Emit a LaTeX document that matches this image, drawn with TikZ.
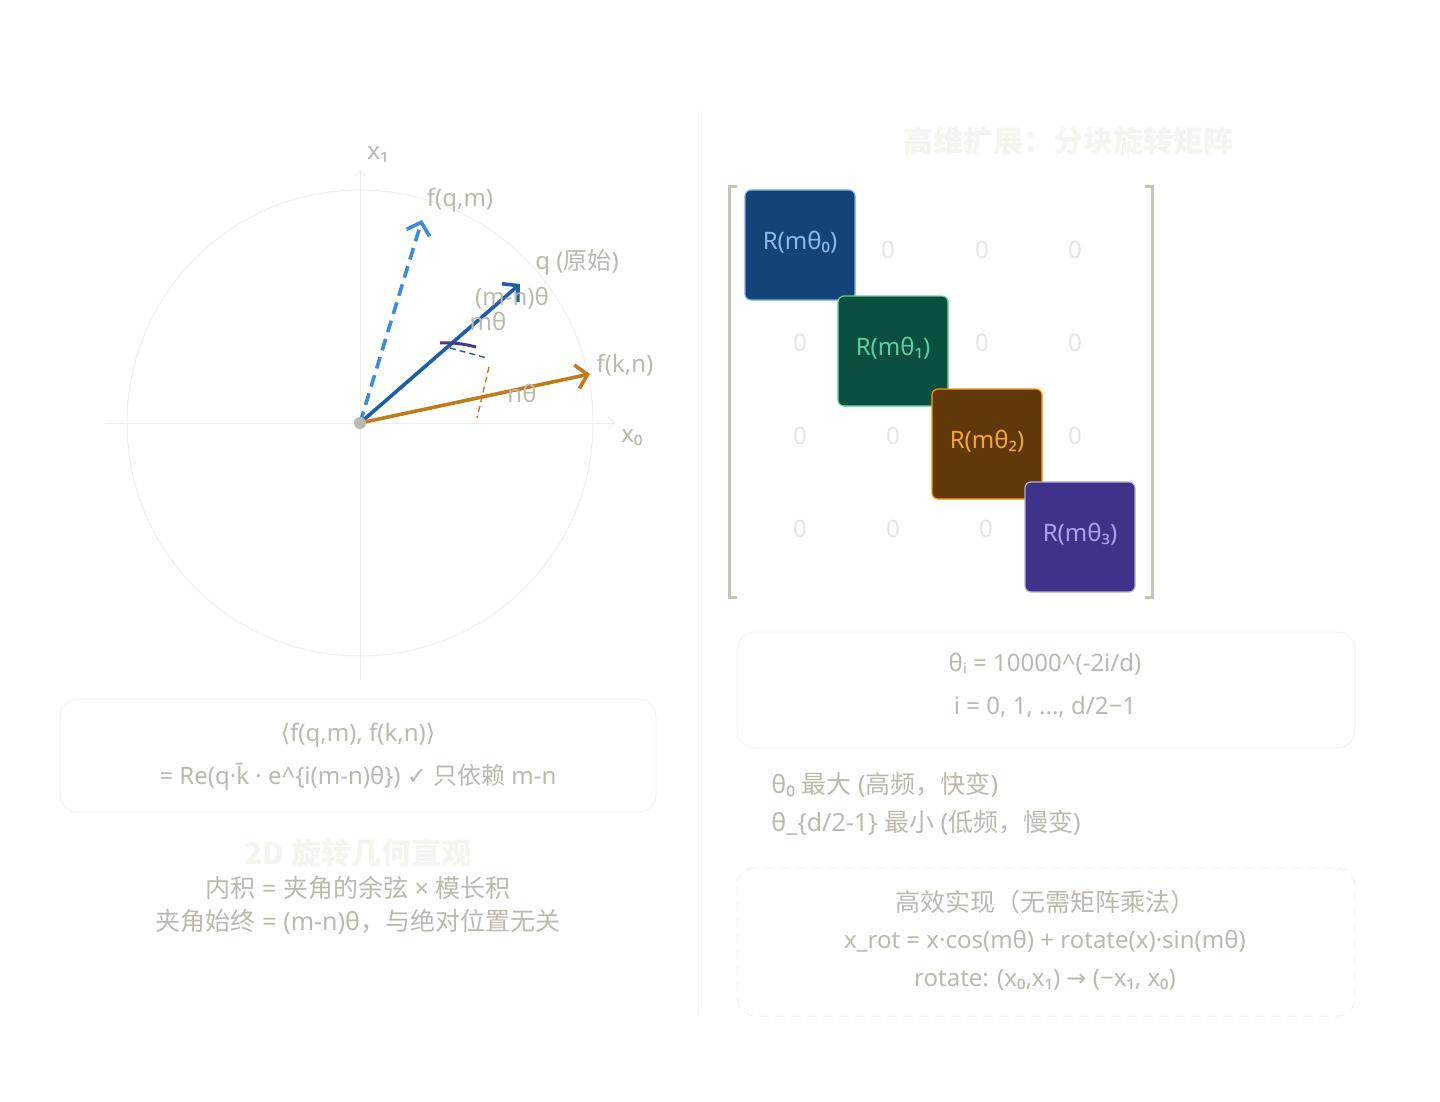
\documentclass[tikz,border=0pt]{standalone}
\usepackage{fontspec}
\setmainfont{Noto Sans}
\newfontfamily\cjk{Noto Sans CJK SC}
\newfontfamily\symf{DejaVu Sans}
\usepackage{xcolor}
\usepackage{tikz}
\usetikzlibrary{arrows.meta,positioning}

\definecolor{txtgray}{HTML}{BCB8AD}
\definecolor{zerogray}{HTML}{E6E4DF}
\definecolor{faint}{HTML}{F5F4EF}
\definecolor{axisgray}{HTML}{EDEDED}
\definecolor{qblue}{HTML}{1B5FAA}
\definecolor{fqblue}{HTML}{3D8BD9}
\definecolor{korange}{HTML}{C37A1A}
\definecolor{arcpurple}{HTML}{4B3A8C}

\begin{document}
\begin{tikzpicture}[x=0.5pt,y=-0.5pt,
  lbl/.style={text=txtgray,font=\fontsize{12}{14}\selectfont,inner sep=1pt},
  note/.style={text=txtgray,font=\fontsize{12.5}{15}\selectfont,inner sep=1pt},
  heading/.style={text=faint,font=\fontsize{15}{18}\selectfont\cjk\bfseries,inner sep=1pt},
  zero/.style={text=zerogray,font=\fontsize{12}{14}\selectfont,inner sep=1pt},
  vec/.style={line width=1.8pt,-{Straight Barb[length=5.5pt,width=12pt,line width=1.8pt]}},
  blk/.style={draw=#1,rounded corners=3pt,minimum size=55pt,line width=0.6pt,inner sep=0pt,
    font=\fontsize{12}{14}\selectfont},
  panel/.style={draw=#1,rounded corners=9pt,line width=0.5pt}]
  \useasboundingbox (0,0) rectangle (1440,1102);

  % divider
  \draw[color=axisgray!60,line width=0.5pt] (698,110) -- (698,1015);

  % ---------- left: 2D rotation ----------
  \coordinate (O) at (360,423);
  \draw[axisgray,line width=0.5pt] (O) circle[radius=233];
  \draw[axisgray,line width=0.5pt,-{Straight Barb[length=3pt,width=6pt]}] (105,423) -- (615,423);
  \draw[axisgray,line width=0.5pt,-{Straight Barb[length=3pt,width=6pt]}] (360,680) -- (360,170);
  \node[lbl] (xzero) at (632,438) {x₀};
  \node[lbl] (xone) at (378,155) {x₁};

  \coordinate (qtip) at (520,284);
  \coordinate (fqtip) at (422,220);
  \coordinate (fktip) at (590,374);
  \draw[vec,fqblue,dash pattern=on 6pt off 3.5pt] (O) -- (fqtip);
  \draw[vec,qblue] (O) -- (qtip);
  \draw[vec,korange] (O) -- (fktip);
  \fill[txtgray] (O) circle[radius=6];

  % angle marks
  \draw[arcpurple,line width=1.5pt] (440,343) to[bend left=8] (476,347);
  \draw[qblue,line width=0.7pt,dash pattern=on 3pt off 2pt] (450,348) -- (487,358);
  \draw[korange,line width=0.7pt,dash pattern=on 3pt off 2pt] (489,367) -- (477,418);

  \node[lbl] (fqlbl) at (460,200) {f(q,m)};
  \node[lbl] (qlbl) at (577,262) {q ({\cjk 原始})};
  \node[lbl] (fklbl) at (625,365) {f(k,n)};
  \node[lbl] (mnlbl) at (512,298) {(m-n)θ};
  \node[lbl] (mlbl) at (488,321) {mθ};
  \node[lbl] (nlbl) at (522,393) {nθ};

  % inner product box
  \draw[panel=axisgray!70] (60,699) rectangle (656,812);
  \node[lbl] (ipa) at (358,735) {{\symf ⟨}f(q,m), f(k,n){\symf ⟩}};
  \node[lbl] (ipb) at (358,777) {= Re(q·k̄ · e\textasciicircum\{i(m-n)θ\}) {\symf ✓} {\cjk 只依赖} m-n};

  \node[heading] (lefttitle) at (358,853) {2D 旋转几何直观};
  \node[note] (lefta) at (358,888) {{\cjk 内积} = {\cjk 夹角的余弦} × {\cjk 模长积}};
  \node[note] (leftb) at (358,922) {{\cjk 夹角始终} = (m-n)θ{\cjk ，与绝对位置无关}};

  % ---------- right: block rotation matrix ----------
  \node[heading] (righttitle) at (1068,141) {高维扩展：分块旋转矩阵};

  \draw[txtgray!85,line width=1.5pt] (737,186) -- (729,186) -- (729,597) -- (737,597);
  \draw[txtgray!85,line width=1.5pt] (1145,186) -- (1152,186) -- (1152,597) -- (1145,597);

  \node[blk=fqblue!70!white,fill=qblue!70!black,text=fqblue!60!white]
    (b0) at (800,245) {\raisebox{5pt}{R(mθ₀)}};
  \node[blk=green!45!teal!60!white,fill={rgb,255:red,10;green,79;blue,64},
    text={rgb,255:red,90;green,208;blue,160}] (b1) at (893,351) {\raisebox{5pt}{R(mθ₁)}};
  \node[blk=orange!80!yellow,fill={rgb,255:red,97;green,56;blue,10},
    text={rgb,255:red,240;green,168;blue,48}] (b2) at (987,444) {\raisebox{5pt}{R(mθ₂)}};
  \node[blk=arcpurple!40!white,fill={rgb,255:red,61;green,51;blue,136},
    text={rgb,255:red,176;green,160;blue,240}] (b3) at (1080,537) {\raisebox{5pt}{R(mθ₃)}};

  \foreach \x/\y [count=\i] in {888/250,982/250,1075/250,800/343,982/343,1075/343,
                               800/436,893/436,1075/436,800/529,893/529,986/529}
    \node[zero] (z\i) at (\x,\y) {0};

  % frequency box
  \draw[panel=axisgray!70] (737,632) rectangle (1355,748);
  \node[lbl] (freqa) at (1045,664) {θᵢ = 10000\textasciicircum(-2i/d)};
  \node[lbl] (freqb) at (1045,707) {i = 0, 1, ..., d/2−1};

  \node[note,anchor=west] (hi) at (769,785) {θ₀ {\cjk 最大} ({\cjk 高频，快变})};
  \node[note,anchor=west] (lo) at (769,823) {θ\_\{d/2-1\} {\cjk 最小} ({\cjk 低频，慢变})};

  % implementation box
  \draw[panel=axisgray!80,dash pattern=on 5pt off 3pt] (737,868) rectangle (1355,1016);
  \node[note] (impla) at (1045,902) {\cjk 高效实现（无需矩阵乘法）};
  \node[lbl] (implb) at (1045,941) {x\_rot = x·cos(mθ) + rotate(x)·sin(mθ)};
  \node[lbl] (implc) at (1045,980) {rotate: (x₀,x₁) {\symf →} (−x₁, x₀)};
\end{tikzpicture}
\end{document}
